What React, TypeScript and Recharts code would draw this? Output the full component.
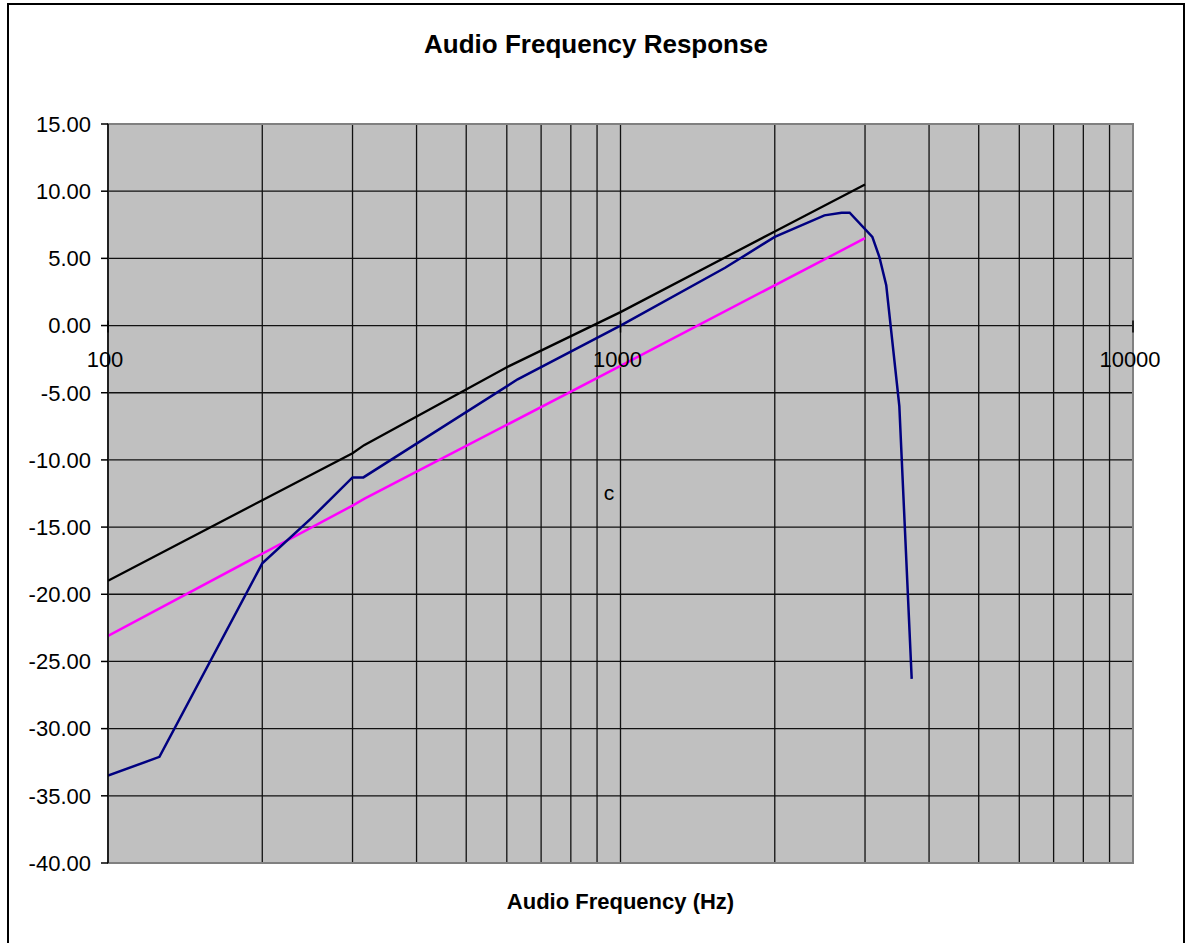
import React from "react";
import { CartesianGrid, Line, LineChart, ReferenceArea, ReferenceDot, XAxis, YAxis } from "recharts";

const FONT = "'Liberation Sans', Arial, Helvetica, sans-serif";

// frequency grid (log decades) and dB ticks
const GRID_FREQS = [100, 200, 300, 400, 500, 600, 700, 800, 900, 1000, 2000, 3000, 4000, 5000, 6000, 7000, 8000, 9000, 10000];
const MAJOR_FREQS = [100, 1000, 10000];
const DB_TICKS = [-40, -35, -30, -25, -20, -15, -10, -5, 0, 5, 10, 15];

// black reference line
const BLACK_F = [100, 200, 300, 316, 600, 1000, 2000, 3000];
const BLACK_DB = [-19.0, -13.0, -9.5, -8.9, -3.1, 1.0, 7.0, 10.5];

// magenta reference line
const MAGENTA_F = [100, 300, 316, 1000, 3000];
const MAGENTA_DB = [-23.1, -13.4, -12.9, -3.0, 6.5];

// measured response (navy)
const BLUE_F = [100, 126, 200, 250, 300, 315, 630, 1000, 1600, 2000, 2500, 2700, 2800, 3100, 3200, 3300, 3500, 3700];
const BLUE_DB = [-33.5, -32.1, -17.7, -14.3, -11.3, -11.3, -4.0, 0.0, 4.3, 6.6, 8.2, 8.4, 8.4, 6.6, 5.1, 3.0, -6.0, -26.3];

const zip = (f: number[], db: number[]) => f.map((v, i) => ({ f: v, db: db[i] }));

const blackData = zip(BLACK_F, BLACK_DB);
const magentaData = zip(MAGENTA_F, MAGENTA_DB);
const blueData = zip(BLUE_F, BLUE_DB);

function MajorTick({ cx, cy, label }: { cx?: number; cy?: number; label: string }) {
  if (cx == null || cy == null) return null;
  return (
    <g>
      <line x1={cx} y1={cy - 5} x2={cx} y2={cy + 7} stroke="#000" strokeWidth={1.5} />
      <text x={cx - 3} y={cy + 41} textAnchor="middle" fontSize={22} fontFamily={FONT} fill="#000">
        {label}
      </text>
    </g>
  );
}

export default function App() {
  return (
    <div style={{ position: "absolute", left: 0, top: 0, width: 1191, height: 943, overflow: "hidden", background: "#fff" }}>
      <div
        style={{
          position: "absolute",
          left: 7,
          top: 3,
          width: 1178,
          height: 980,
          border: "2px solid #000",
          boxSizing: "border-box",
        }}
      />
      <div
        style={{
          position: "absolute",
          left: 7,
          top: 31,
          width: 1178,
          textAlign: "center",
          fontFamily: FONT,
          fontWeight: "bold",
          fontSize: 26,
          lineHeight: "26px",
          color: "#000",
        }}
      >
        Audio Frequency Response
      </div>
      <div
        style={{
          position: "absolute",
          left: 108,
          top: 891,
          width: 1025,
          textAlign: "center",
          fontFamily: FONT,
          fontWeight: "bold",
          fontSize: 22,
          lineHeight: "22px",
          color: "#000",
        }}
      >
        Audio Frequency (Hz)
      </div>
      <div style={{ position: "absolute", left: 0, top: 0 }}>
        <LineChart width={1191} height={943} margin={{ top: 124, right: 58, bottom: 80, left: 0 }}>
          <CartesianGrid
            fill="#C0C0C0"
            fillOpacity={1}
            stroke="#111"
            strokeWidth={1.3}
            verticalValues={GRID_FREQS}
            horizontalValues={DB_TICKS}
          />
          <XAxis
            type="number"
            dataKey="f"
            scale="log"
            domain={[100, 10000]}
            ticks={GRID_FREQS}
            interval={0}
            allowDataOverflow
            axisLine={false}
            tickLine={false}
            tick={() => <g />}
            height={0}
          />
          <YAxis
            type="number"
            domain={[-40, 15]}
            ticks={DB_TICKS}
            width={108}
            tickFormatter={(v: number) => v.toFixed(2)}
            tick={{ fill: "#000", fontSize: 22, fontFamily: FONT }}
            tickSize={7}
            tickMargin={10}
            axisLine={{ stroke: "#000", strokeWidth: 1.5 }}
            tickLine={{ stroke: "#000", strokeWidth: 1.5 }}
            interval={0}
          />
          <ReferenceArea x1={100} x2={10000} y1={-40} y2={15} fill="none" stroke="#808080" strokeWidth={2} ifOverflow="visible" />
          {MAJOR_FREQS.map((f) => (
            <ReferenceDot
              key={f}
              x={f}
              y={0}
              r={0}
              ifOverflow="visible"
              shape={(p: any) => <MajorTick cx={p.cx} cy={p.cy} label={String(f)} />}
            />
          ))}
          <ReferenceDot
            x={950}
            y={-12.4}
            r={0}
            ifOverflow="visible"
            shape={(p: any) => (
              <text x={p.cx} y={p.cy} dy="0.35em" textAnchor="middle" fontSize={21} fontFamily={FONT} fill="#000">
                c
              </text>
            )}
          />
          <Line data={blackData} dataKey="db" type="linear" stroke="#000" strokeWidth={2.3} dot={false} isAnimationActive={false} />
          <Line data={magentaData} dataKey="db" type="linear" stroke="#FF00FF" strokeWidth={2.5} dot={false} isAnimationActive={false} />
          <Line data={blueData} dataKey="db" type="linear" stroke="#000080" strokeWidth={2.5} dot={false} isAnimationActive={false} />
        </LineChart>
      </div>
    </div>
  );
}
